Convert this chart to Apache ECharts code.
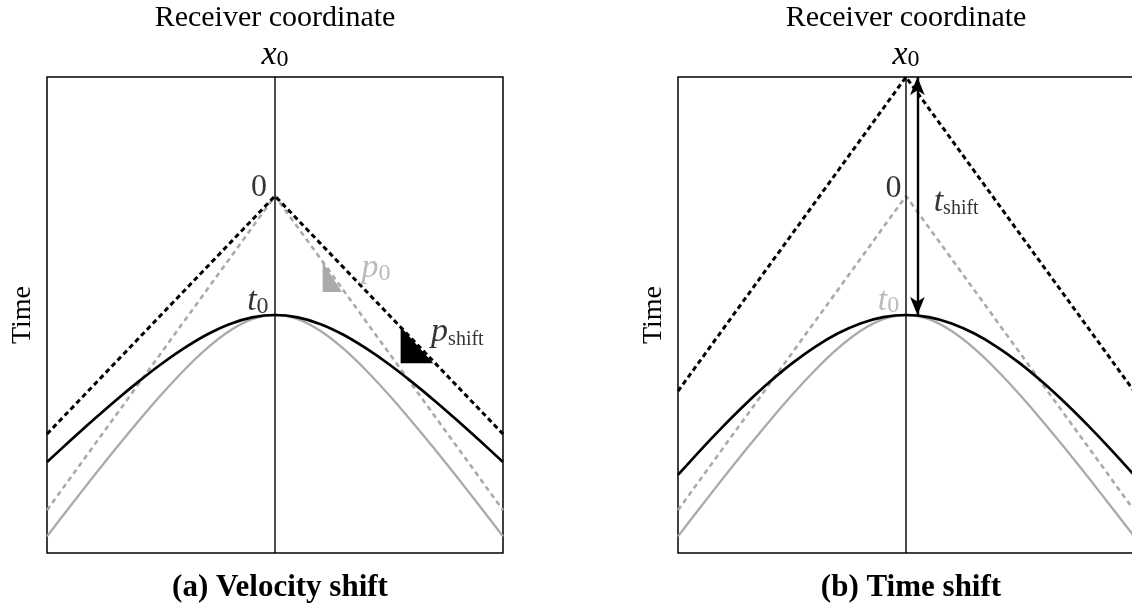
<!DOCTYPE html>
<html>
<head>
<meta charset="utf-8">
<script src="https://cdn.jsdelivr.net/npm/echarts@6/dist/echarts.min.js"></script>
<style>
  html, body { margin: 0; padding: 0; background: #fff; }
  #chart { width: 1132px; height: 610px; }
</style>
</head>
<body>
<div id="chart"></div>
<script>
// Receiver offsets (relative to x0) at which the traveltime curves are sampled
const offsets = [0, 0.1, 0.2, 0.3, 0.4, 0.5, 0.6, 0.7, 0.8, 0.9, 1.0];

// Reference moveout curve (grey), used in both panels
const refCurve = [1.000, 1.035, 1.135, 1.283, 1.466, 1.672, 1.894, 2.126, 2.366, 2.611, 2.860];
// (a) curve after a velocity shift
const velShiftCurve = [1.000, 1.020, 1.077, 1.166, 1.281, 1.414, 1.562, 1.720, 1.887, 2.059, 2.236];
// (b) curve after a time shift
const timeShiftCurve = [1.000, 1.018, 1.071, 1.156, 1.269, 1.407, 1.566, 1.742, 1.932, 2.133, 2.344];

// Asymptotes: [apex time, time at the panel edge]
const refAsym = [0, 2.64];
const velShiftAsym = [0, 2.00];
const timeShiftAsym = [-1, 1.64];

// Slope triangles in panel (a): [x left, t top, x right, t bottom]
const slopeP0 = [0.209, 0.555, 0.294, 0.807];
const slopeShift = [0.551, 1.098, 0.694, 1.406];

// t_shift arrow in panel (b): [x, t start, t end]
const shiftArrow = [0.05, -1, 1];

const SERIF = '"Liberation Serif", "DejaVu Serif", serif';
const GREY = '#aaaaaa';

function curvePoints(vals) {
  const pts = [];
  for (let i = offsets.length - 1; i > 0; i--) pts.push([-offsets[i], vals[i]]);
  for (let i = 0; i < offsets.length; i++) pts.push([offsets[i], vals[i]]);
  return pts;
}
function asymPoints(a) {
  return [[-1, a[1]], [0, a[0]], [1, a[1]]];
}

function mathRich(color) {
  const base = { fontFamily: SERIF, color: color, textBorderWidth: 0, verticalAlign: 'bottom' };
  return {
    i: Object.assign({}, base, { fontStyle: 'italic', fontSize: 34, lineHeight: 38 }),
    r: Object.assign({}, base, { fontSize: 32, lineHeight: 36 }),
    s: Object.assign({}, base, { fontSize: 24, lineHeight: 24 }),
    ss: Object.assign({}, base, { fontSize: 20, lineHeight: 20 })
  };
}

function line(idx, data, color, width, dash, z, smooth) {
  return {
    type: 'line', xAxisIndex: idx, yAxisIndex: idx, data: data,
    smooth: smooth ? 0.3 : false, symbol: 'none', silent: true, z: z || 2,
    lineStyle: { color: color, width: width, type: dash || 'solid', cap: 'butt' }
  };
}
function labels(idx, items) {
  return {
    type: 'scatter', xAxisIndex: idx, yAxisIndex: idx, symbolSize: 0, silent: true, z: 10,
    data: items.map(it => {
      const c = it.grey ? GREY : '#000';
      return {
        value: it.at,
        label: {
          show: true, position: 'inside', formatter: it.text, color: c,
          textBorderWidth: 0, rich: mathRich(c)
        }
      };
    })
  };
}
function triangle(idx, tri, color) {
  return {
    type: 'custom', xAxisIndex: idx, yAxisIndex: idx, silent: true, z: 3,
    data: [tri],
    renderItem: function (params, api) {
      const a = api.coord([api.value(0), api.value(1)]);
      const b = api.coord([api.value(0), api.value(3)]);
      const c = api.coord([api.value(2), api.value(3)]);
      return { type: 'polygon', shape: { points: [a, b, c] }, style: { fill: color } };
    }
  };
}

const grids = [
  { left: 47, top: 77, width: 456, height: 476 },
  { left: 678, top: 77, width: 456, height: 476 }
];

const xAxes = grids.map((g, i) => ({
  type: 'value', gridIndex: i, min: -1, max: 1, interval: 1, position: 'top',
  name: 'Receiver coordinate', nameLocation: 'middle', nameGap: 43,
  nameTextStyle: { fontFamily: SERIF, fontSize: 30, color: '#000' },
  axisLine: { show: false }, axisTick: { show: false }, splitLine: { show: false },
  axisLabel: {
    margin: 5, color: '#000',
    formatter: v => (v === 0 ? '{i|x}{s|0}' : ''),
    rich: mathRich('#000')
  }
}));

const yAxes = grids.map((g, i) => ({
  type: 'value', gridIndex: i, min: -1, max: 3, inverse: true,
  name: 'Time', nameLocation: 'middle', nameGap: 10, nameRotate: 90,
  nameTextStyle: { fontFamily: SERIF, fontSize: 28, color: '#000' },
  axisLine: { show: false }, axisTick: { show: false }, splitLine: { show: false },
  axisLabel: { show: false }
}));

const centreLine = [[0, -1], [0, 3]];
const BLACK_DASH = [5, 3.5];
const GREY_DASH = [5, 4];

const series = [
  // Panel (a): velocity shift
  line(0, curvePoints(refCurve), GREY, 2.3, null, 2, true),
  line(0, asymPoints(refAsym), GREY, 2.6, GREY_DASH),
  line(0, curvePoints(velShiftCurve), '#000', 2.7, null, 4, true),
  line(0, asymPoints(velShiftAsym), '#000', 3, BLACK_DASH, 4),
  line(0, centreLine, '#000', 1.4, null, 5),
  triangle(0, slopeP0, GREY),
  triangle(0, slopeShift, '#000'),
  labels(0, [
    { at: [-0.07, -0.09], text: '{r|0}' },
    { at: [-0.075, 0.87], text: '{i|t}{s|0}' },
    { at: [0.443, 0.59], text: '{i|p}{s|0}', grey: true },
    { at: [0.80, 1.13], text: '{i|p}{ss|shift}' }
  ]),

  // Panel (b): time shift
  line(1, curvePoints(refCurve), GREY, 2.3, null, 2, true),
  line(1, asymPoints(refAsym), GREY, 2.6, GREY_DASH),
  line(1, curvePoints(timeShiftCurve), '#000', 2.7, null, 4, true),
  line(1, asymPoints(timeShiftAsym), '#000', 3, BLACK_DASH, 4),
  Object.assign(line(1, centreLine, '#000', 1.4, null, 5), {
    markLine: {
      silent: true, symbol: ['arrow', 'arrow'], symbolSize: [11, 18],
      label: { show: false },
      lineStyle: { color: '#000', width: 2.4, type: 'solid' },
      data: [[{ coord: [shiftArrow[0], shiftArrow[1]] }, { coord: [shiftArrow[0], shiftArrow[2]] }]]
    }
  }),
  labels(1, [
    { at: [-0.055, -0.08], text: '{r|0}' },
    { at: [-0.077, 0.865], text: '{i|t}{s|0}', grey: true },
    { at: [0.22, 0.03], text: '{i|t}{ss|shift}' }
  ])
];

const chart = echarts.init(document.getElementById('chart'), null, { renderer: 'canvas' });
chart.setOption({
  animation: false,
  backgroundColor: '#fff',
  title: [
    { text: '(a) Velocity shift', left: 275, top: 567, textAlign: 'center',
      textStyle: { fontFamily: SERIF, fontWeight: 'bold', fontSize: 31, color: '#000' } },
    { text: '(b) Time shift', left: 906, top: 567, textAlign: 'center',
      textStyle: { fontFamily: SERIF, fontWeight: 'bold', fontSize: 31, color: '#000' } }
  ],
  grid: grids.map(g => Object.assign({
    show: true, borderColor: '#000', borderWidth: 1.5, backgroundColor: 'transparent',
    outerBoundsMode: 'none', containLabel: false
  }, g)),
  xAxis: xAxes,
  yAxis: yAxes,
  series: series
});
</script>
</body>
</html>
